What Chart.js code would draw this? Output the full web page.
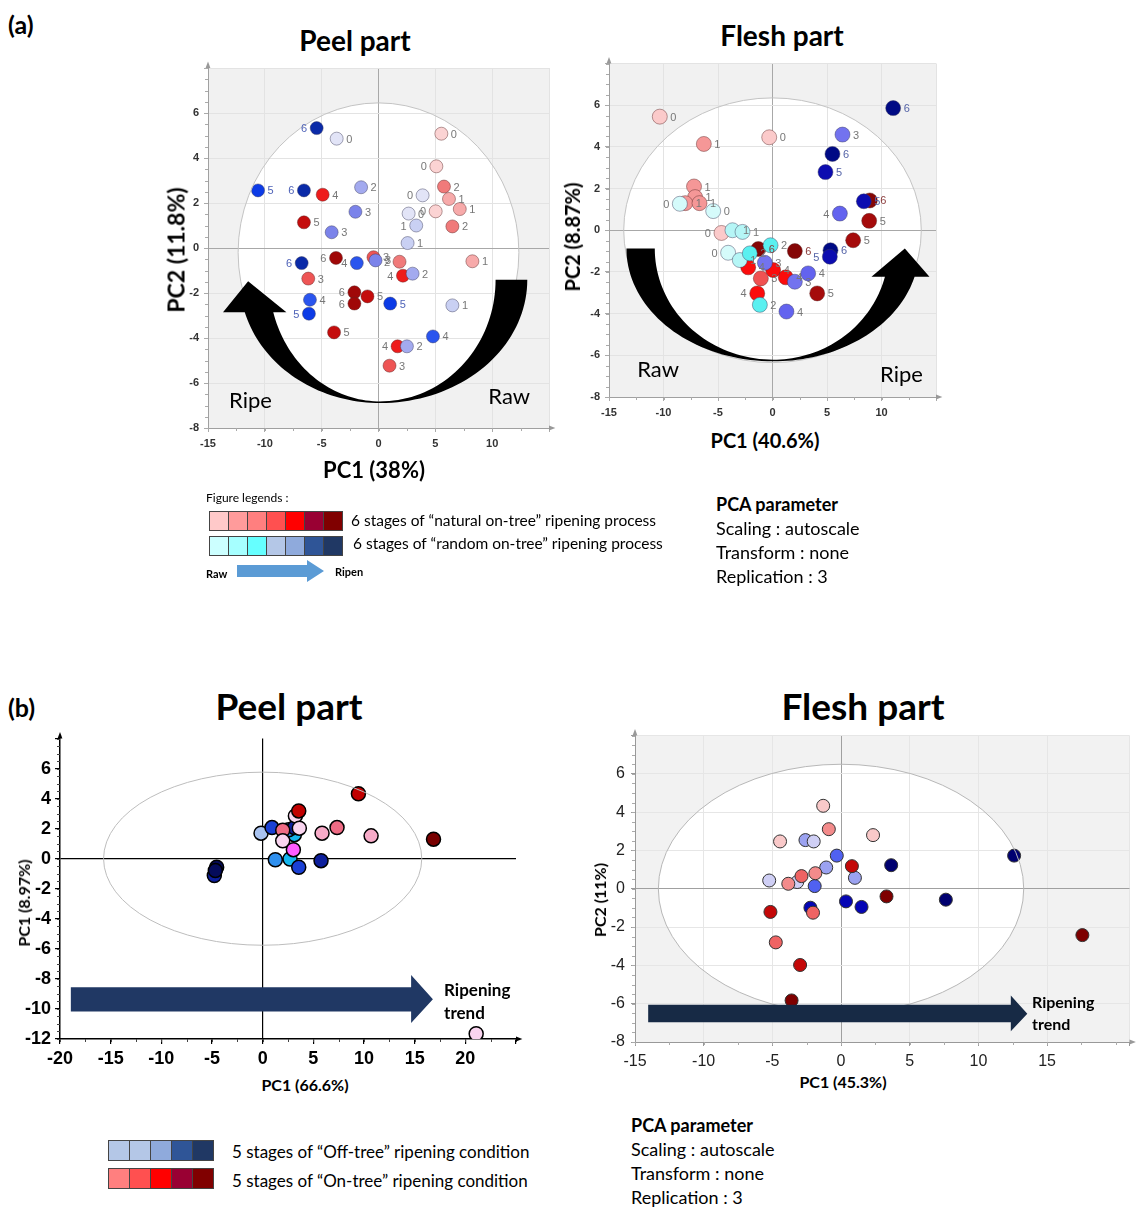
<!DOCTYPE html>
<html>
<head>
<meta charset="utf-8">
<script src="https://cdn.jsdelivr.net/npm/chart.js@4.4.1/dist/chart.umd.min.js"></script>
<style>
  body { margin: 0; background: #fff; font-family: Lato, 'Open Sans', sans-serif; color: #000; }
  #page { position: relative; width: 1137px; height: 1208px; overflow: hidden; }
  canvas { position: absolute; }
  .t { position: absolute; white-space: nowrap; line-height: 1; }
  .c { transform: translate(-50%, -50%); }
  .l { transform: translateY(-50%); }
  .r90 { transform: translate(-50%, -50%) rotate(-90deg); }
  .b { font-weight: bold; }
  .boxes { position: absolute; display: flex; }
  .boxes div { border: 1px solid #444; box-sizing: border-box; margin-right: -1px; }
</style>
</head>
<body>
<div id="page">
  <div class="t l b" style="left:8px;top:24px;font-size:25px">(a)</div>
  <div class="t c b" style="left:355px;top:40px;font-size:28px">Peel part</div>
  <div class="t c b" style="left:782px;top:35px;font-size:28px">Flesh part</div>

  <canvas id="peelA" width="410" height="400" style="left:150px;top:60px"></canvas>
  <canvas id="fleshA" width="390" height="370" style="left:560px;top:55px"></canvas>

  <div class="t r90 b" style="left:176px;top:250px;font-size:23px">PC2 (11.8%)</div>
  <div class="t c b" style="left:374px;top:470px;font-size:22px">PC1 (38%)</div>
  <div class="t r90 b" style="left:572px;top:237px;font-size:20px">PC2 (8.87%)</div>
  <div class="t c b" style="left:765px;top:440px;font-size:20px">PC1 (40.6%)</div>

  <div class="t l" style="left:206px;top:498px;font-size:12px">Figure legends :</div>
  <div class="boxes" id="legA1" style="left:209px;top:511px"></div>
  <div class="boxes" id="legA2" style="left:209px;top:536px"></div>
  <div class="t l" id="legA1t" style="left:351px;top:521px;font-size:15.5px"></div>
  <div class="t l" id="legA2t" style="left:353px;top:544px;font-size:15.5px"></div>
  <div class="t l b" style="left:206px;top:573px;font-size:11px">Raw</div>
  <svg style="position:absolute;left:237px;top:560px" width="90" height="22">
    <polygon points="0,5 70,5 70,0 87,11 70,22 70,17 0,17" fill="#5b9bd5"/>
  </svg>
  <div class="t l b" style="left:335px;top:571px;font-size:11px">Ripen</div>

  <div class="t l b" style="left:716px;top:504px;font-size:18px">PCA parameter</div>
  <div class="t l" style="left:716px;top:528px;font-size:18px">Scaling : autoscale</div>
  <div class="t l" style="left:716px;top:552px;font-size:18px">Transform : none</div>
  <div class="t l" style="left:716px;top:576px;font-size:18px">Replication : 3</div>

  <div class="t l b" style="left:8px;top:707px;font-size:25px">(b)</div>
  <div class="t c b" style="left:289px;top:705px;font-size:37px">Peel part</div>
  <div class="t c b" style="left:863px;top:705px;font-size:37px">Flesh part</div>

  <canvas id="peelB" width="580" height="340" style="left:0px;top:730px"></canvas>
  <canvas id="fleshB" width="547" height="340" style="left:590px;top:728px"></canvas>

  <div class="t r90 b" style="left:24px;top:903px;font-size:16px">PC1 (8.97%)</div>
  <div class="t c b" style="left:305px;top:1085px;font-size:16px">PC1 (66.6%)</div>
  <div class="t r90 b" style="left:600px;top:900px;font-size:16px">PC2 (11%)</div>
  <div class="t c b" style="left:843px;top:1082px;font-size:16px">PC1 (45.3%)</div>

  <div class="boxes" id="legB1" style="left:108px;top:1140px"></div>
  <div class="boxes" id="legB2" style="left:108px;top:1168px"></div>
  <div class="t l" id="legB1t" style="left:232px;top:1151px;font-size:17px"></div>
  <div class="t l" id="legB2t" style="left:232px;top:1180px;font-size:17px"></div>

  <div class="t l b" style="left:631px;top:1125px;font-size:18px">PCA parameter</div>
  <div class="t l" style="left:631px;top:1149px;font-size:18px">Scaling : autoscale</div>
  <div class="t l" style="left:631px;top:1173px;font-size:18px">Transform : none</div>
  <div class="t l" style="left:631px;top:1197px;font-size:18px">Replication : 3</div>
</div>

<script>
// ---- (a) Peel part : natural on-tree (red) and random on-tree (blue)
const peelA_natX = [5.53, 5.09, 5.76, 6.2, 7.15, 6.5, 5.03, 8.26, -4.91, -6.56, -3.74, -0.44, 1.85, 2.15, -6.18, -2.12, -2.12, -0.97, -3.91, 1.68, 0.97];
const peelA_natY = [5.08, 3.63, 2.73, 2.18, 1.73, 0.96, 1.63, -0.59, 2.37, 1.14, -0.44, -0.41, -0.61, -1.23, -1.36, -1.97, -2.47, -2.15, -3.75, -4.37, -5.23];
const peelA_natStage = [0, 0, 2, 1, 1, 2, 0, 1, 4, 5, 6, 3, 2, 4, 3, 6, 6, 5, 5, 4, 3];
const peelA_rndX = [-5.44, -3.68, 3.88, 2.65, 3.32, 2.56, 6.5, -10.6, -6.56, -1.53, -2.03, -4.12, -6.76, -1.91, -0.26, 3.0, -6.03, -6.12, 1.03, 4.79, 2.5];
const peelA_rndY = [5.33, 4.86, 2.34, 1.53, 1.0, 0.22, -2.55, 2.56, 2.56, 2.7, 1.61, 0.7, -0.67, -0.67, -0.55, -1.14, -2.3, -2.92, -2.47, -3.93, -4.37];
const peelA_rndStage = [6, 0, 0, 0, 1, 1, 1, 5, 6, 2, 3, 3, 6, 4, 3, 2, 4, 5, 5, 4, 2];

// ---- (a) Flesh part
const fleshA_natX = [-10.34, -6.3, -0.3, -7.2, -7.1, -8.0, -6.7, -4.68, -2.23, 0.06, -1.07, 1.22, -1.4, -1.3, 2.05, 8.93, 8.87, 7.4, 4.1];
const fleshA_natY = [5.45, 4.14, 4.46, 2.1, 1.59, 1.3, 1.3, -0.13, -1.78, -1.91, -2.31, -2.26, -3.03, -0.9, -1.0, 1.43, 0.45, -0.48, -3.03];
const fleshA_natStage = [0, 1, 0, 1, 1, 1, 1, 0, 4, 4, 3, 4, 4, 6, 6, 6, 5, 5, 5];
const fleshA_rndX = [-8.5, -5.44, -3.67, -2.75, -4.07, -3.0, -2.08, -0.18, -1.16, 6.42, 5.5, 4.86, 8.38, 6.18, 5.32, 5.26, -0.7, 3.27, 2.05, 1.28, 11.07];
const fleshA_rndY = [1.27, 0.92, 0.0, -0.08, -1.08, -1.43, -1.11, -0.72, -3.58, 4.59, 3.66, 2.79, 1.39, 0.8, -0.96, -1.27, -1.56, -2.07, -2.47, -3.9, 5.86];
const fleshA_rndStage = [0, 0, 1, 1, 0, 1, 2, 2, 2, 3, 6, 5, 5, 4, 6, 5, 3, 4, 3, 4, 6];

// ---- (b) Peel part : off-tree (blue) and on-tree (red)
const peelB_offX = [-0.16, 0.92, 3.13, 2.57, 3.13, 1.25, 2.7, 3.56, 5.76, -4.77, -4.54, -4.67];
const peelB_offY = [1.7, 2.07, 1.6, 1.92, 2.07, -0.07, -0.02, -0.57, -0.13, -1.12, -0.57, -0.79];
const peelB_offStage = [0, 3, 2, 1, 4, 1, 2, 3, 4, 4, 5, 5];
const peelB_onX = [1.98, 1.98, 3.23, 3.62, 3.56, 3.03, 5.86, 7.34, 10.7, 9.45, 16.86, 21.07];
const peelB_onY = [1.9, 1.19, 2.85, 2.03, 3.18, 0.6, 1.7, 2.07, 1.52, 4.32, 1.3, -11.65];
const peelB_onStage = [2, 0, 0, 0, 4, 3, 1, 2, 1, 4, 5, 0];

// ---- (b) Flesh part
const fleshB_onX = [-1.3, -0.89, 2.33, -4.44, 0.79, -3.84, -2.88, -1.87, 3.31, -2.04, -5.14, -4.75, -2.98, -3.6, 17.57];
const fleshB_onY = [4.33, 3.11, 2.8, 2.47, 1.18, 0.26, 0.66, 0.81, -0.4, -1.25, -1.21, -2.8, -3.98, -5.83, -2.42];
const fleshB_onStage = [0, 1, 0, 0, 3, 1, 2, 1, 4, 2, 3, 2, 3, 4, 4];
const fleshB_offX = [-2.59, -1.99, -0.31, 3.65, 12.6, -5.23, -3.19, -1.08, -1.92, 1.01, 0.36, 1.49, 7.63, -2.23];
const fleshB_offY = [2.54, 2.47, 1.73, 1.23, 1.73, 0.43, 0.35, 1.11, 0.14, 0.57, -0.66, -0.95, -0.57, -0.99];
const fleshB_offStage = [1, 0, 2, 4, 4, 0, 0, 1, 2, 1, 3, 3, 4, 3];

// tick labels
const peelA_xTicks = [-15, -10, -5, 0, 5, 10];
const peelA_yTicks = [-8, -6, -4, -2, 0, 2, 4, 6];
const fleshA_xTicks = [-15, -10, -5, 0, 5, 10];
const fleshA_yTicks = [-8, -6, -4, -2, 0, 2, 4, 6];
const peelB_xTicks = [-20, -15, -10, -5, 0, 5, 10, 15, 20];
const peelB_yTicks = [-12, -10, -8, -6, -4, -2, 0, 2, 4, 6];
const fleshB_xTicks = [-15, -10, -5, 0, 5, 10, 15];
const fleshB_yTicks = [-8, -6, -4, -2, 0, 2, 4, 6];

// legends
const legendA_text = ['6 stages of \u201cnatural on-tree\u201d ripening process', '6 stages of \u201crandom on-tree\u201d ripening process'];
const legendB_text = ['5 stages of \u201cOff-tree\u201d ripening condition', '5 stages of \u201cOn-tree\u201d ripening condition'];
const legendA_red = ['#ffc9c9', '#ff9b9b', '#ff7f7f', '#ff5050', '#ff0000', '#990033', '#800000'];
const legendA_cyanBlue = ['#ccffff', '#a6ffff', '#66ffff', '#b4c7e7', '#8faadc', '#2f5597', '#203864'];
const legendB_blue = ['#b4c7e7', '#b4c7e7', '#8faadc', '#2f5597', '#203864'];
const legendB_red = ['#ff7f7f', '#ff5050', '#ff0000', '#990033', '#800000'];

function fillBoxes(id, colors, w, h) {
  const el = document.getElementById(id);
  colors.forEach(c => {
    const d = document.createElement('div');
    d.style.width = w + 'px'; d.style.height = h + 'px'; d.style.background = c;
    el.appendChild(d);
  });
}
fillBoxes('legA1', legendA_red, 20, 20);
fillBoxes('legA2', legendA_cyanBlue, 20, 20);
fillBoxes('legB1', legendB_blue, 22, 21);
fillBoxes('legB2', legendB_red, 22, 21);
document.getElementById('legA1t').textContent = legendA_text[0];
document.getElementById('legA2t').textContent = legendA_text[1];
document.getElementById('legB1t').textContent = legendB_text[0];
document.getElementById('legB2t').textContent = legendB_text[1];

const pts = (xs, ys) => xs.map((v, i) => ({ x: v, y: ys[i] }));

function ellPts(cx, cy, rx, ry, a0, a1, n = 40) {
  const p = [];
  for (let i = 0; i <= n; i++) {
    const t = a0 + (a1 - a0) * i / n;
    p.push([cx + rx * Math.cos(t), cy + ry * Math.sin(t)]);
  }
  return p;
}

function drawCurvedArrow(chart, s) {
  const { ctx, scales: { x, y } } = chart;
  const cx = x.getPixelForValue(s.cx), cy = y.getPixelForValue(s.cy);
  const px = v => Math.abs(x.getPixelForValue(s.cx + v) - cx);
  const py = v => Math.abs(y.getPixelForValue(s.cy - v) - cy);
  const ryO = py(s.ryOut), ryI = py(s.ryIn);
  const by = y.getPixelForValue(s.baseY);
  const left = s.side === 'left';
  const tail = left ? 0 : Math.PI;
  const endO = left ? Math.PI - Math.asin((by - cy) / ryO) : Math.asin((by - cy) / ryO);
  const endI = left ? Math.PI - Math.asin((by - cy) / ryI) : Math.asin((by - cy) / ryI);
  const path = [
    ...ellPts(cx, cy, px(s.tailOut), ryO, tail, Math.PI / 2),
    ...ellPts(cx, cy, px(s.headOut), ryO, Math.PI / 2, endO),
    [x.getPixelForValue(s.baseOutX), by],
    [x.getPixelForValue(s.tip[0]), y.getPixelForValue(s.tip[1])],
    [x.getPixelForValue(s.baseInX), by],
    ...ellPts(cx, cy, px(s.headIn), ryI, endI, Math.PI / 2),
    ...ellPts(cx, cy, px(s.tailIn), ryI, Math.PI / 2, tail)
  ];
  ctx.beginPath();
  path.forEach((p, i) => i ? ctx.lineTo(p[0], p[1]) : ctx.moveTo(p[0], p[1]));
  ctx.closePath();
  ctx.fillStyle = '#000';
  ctx.fill();
}

function drawStraightArrow(chart, s) {
  const { ctx, scales: { x, y } } = chart;
  const X = v => x.getPixelForValue(v), Y = v => y.getPixelForValue(v);
  ctx.beginPath();
  ctx.moveTo(X(s.x0), Y(s.top));
  ctx.lineTo(X(s.headX), Y(s.top));
  ctx.lineTo(X(s.headX), Y(s.headTop));
  ctx.lineTo(X(s.tipX), Y(s.tipY));
  ctx.lineTo(X(s.headX), Y(s.headBottom));
  ctx.lineTo(X(s.headX), Y(s.bottom));
  ctx.lineTo(X(s.x0), Y(s.bottom));
  ctx.closePath();
  ctx.fillStyle = s.color;
  ctx.fill();
}

function ellipsePath(chart, e) {
  const { ctx, scales: { x, y } } = chart;
  const cx = x.getPixelForValue(e.cx), cy = y.getPixelForValue(e.cy);
  const rx = Math.abs(x.getPixelForValue(e.cx + e.rx) - cx);
  const ry = Math.abs(y.getPixelForValue(e.cy + e.ry) - cy);
  ctx.beginPath();
  ctx.ellipse(cx, cy, rx, ry, 0, 0, Math.PI * 2);
}

const deco = {
  id: 'deco',
  beforeDraw(chart, args, o) {
    const { ctx, chartArea: a } = chart;
    ctx.save();
    if (o.bg) {
      ctx.fillStyle = o.bg;
      ctx.fillRect(a.left, a.top, a.right - a.left, a.bottom - a.top);
    }
    if (o.ellipse && o.ellipseFill) {
      ellipsePath(chart, o.ellipse);
      ctx.fillStyle = o.ellipseFill;
      ctx.fill();
    }
    ctx.restore();
  },
  afterDatasetsDraw(chart, args, o) {
    const { ctx, chartArea: a, scales: { x, y } } = chart;
    ctx.save();
    if (o.ellipse) {
      ellipsePath(chart, o.ellipse);
      ctx.strokeStyle = o.ellipseLine;
      ctx.lineWidth = 1;
      ctx.stroke();
    }
    if (o.curved) drawCurvedArrow(chart, o.curved);
    if (o.straight) drawStraightArrow(chart, o.straight);
    (o.texts || []).forEach(t => {
      ctx.font = t.font;
      ctx.fillStyle = t.color || '#000';
      ctx.textAlign = t.align || 'center';
      ctx.textBaseline = 'middle';
      ctx.fillText(t.text, x.getPixelForValue(t.x), y.getPixelForValue(t.y));
    });
    // minor ticks on the outside of both axes
    if (o.minor) {
      const m = o.minor;
      ctx.strokeStyle = m.color;
      ctx.lineWidth = 1;
      ctx.beginPath();
      for (let v = y.min; v <= y.max + 1e-9; v += m.y) {
        const py = Math.round(y.getPixelForValue(v)) + 0.5;
        ctx.moveTo(a.left - m.len, py); ctx.lineTo(a.left, py);
      }
      for (let v = x.min; v <= x.max + 1e-9; v += m.x) {
        const px = Math.round(x.getPixelForValue(v)) + 0.5;
        ctx.moveTo(px, a.bottom); ctx.lineTo(px, a.bottom + m.len);
      }
      ctx.stroke();
    }
    if (o.axisArrow) {
      const s = o.axisArrow.size, c = o.axisArrow.color;
      ctx.fillStyle = c;
      ctx.beginPath();
      ctx.moveTo(a.left, a.top - s * 1.6);
      ctx.lineTo(a.left - s * 0.6, a.top);
      ctx.lineTo(a.left + s * 0.6, a.top);
      ctx.closePath(); ctx.fill();
      ctx.beginPath();
      ctx.moveTo(a.right + s * 1.6, a.bottom);
      ctx.lineTo(a.right, a.bottom - s * 0.6);
      ctx.lineTo(a.right, a.bottom + s * 0.6);
      ctx.closePath(); ctx.fill();
    }
    ctx.restore();
  }
};

const stageLabels = {
  id: 'stageLabels',
  afterDatasetsDraw(chart) {
    const ctx = chart.ctx;
    chart.data.datasets.forEach((ds, i) => {
      if (!ds.stageText) return;
      const meta = chart.getDatasetMeta(i);
      ctx.save();
      ctx.font = '11px "Liberation Sans", Arial, sans-serif';
      ctx.textBaseline = 'middle';
      meta.data.forEach((pt, j) => {
        const left = ds.labelLeft.includes(j);
        ctx.fillStyle = ds.labelColors[ds.stageText[j]];
        ctx.textAlign = left ? 'right' : 'left';
        ctx.fillText(String(ds.stageText[j]), pt.x + (left ? -1 : 1) * (ds.pointRadius + 3), pt.y + 1);
      });
      ctx.restore();
    });
  }
};

// fixed axis sizes so the plot area lands where the figure has it
function fixX(h) { return s => { s.height = h; s.paddingLeft = 0; s.paddingRight = 0; }; }
function fixY(w) { return s => { s.width = w; s.paddingTop = 0; s.paddingBottom = 0; }; }

function makePanel(id, c) {
  const tickCb = list => v => list.includes(v) ? v : '';
  return new Chart(document.getElementById(id), {
    type: 'scatter',
    data: { datasets: c.datasets },
    options: {
      responsive: false,
      animation: false,
      events: [],
      layout: { padding: { top: c.padTop, right: c.padRight, left: 0, bottom: 0 } },
      plugins: { legend: { display: false }, tooltip: { enabled: false }, deco: c.deco },
      scales: {
        x: {
          type: 'linear', min: c.xMin, max: c.xMax,
          afterFit: fixX(c.xH),
          ticks: { stepSize: c.xStep, callback: tickCb(c.xTicks), font: c.tickFont, color: c.tickColor, padding: c.tickPad, maxRotation: 0, autoSkip: false },
          grid: c.grid, border: c.border
        },
        y: {
          type: 'linear', min: c.yMin, max: c.yMax,
          afterFit: fixY(c.yW),
          ticks: { stepSize: c.yStep, callback: tickCb(c.yTicks), font: c.tickFont, color: c.tickColor, padding: c.tickPad, autoSkip: false },
          grid: c.grid, border: c.border
        }
      }
    },
    plugins: [deco, stageLabels]
  });
}

// styles for panel (a)
const aGrid = { color: ctx => ctx.tick && ctx.tick.value === 0 ? '#a8a8a8' : '#e3e3e3', tickColor: '#aaa', tickLength: 4 };
const aBorder = { color: '#a0a0a0', width: 1 };
const aFont = { family: '"Liberation Sans", Arial, sans-serif', size: 11, weight: 'bold' };
const pStyle = (r, bc, bw) => ({ pointRadius: r, pointBorderColor: bc, pointBorderWidth: bw, pointHoverRadius: r });

makePanel('peelA', {
  xMin: -15, xMax: 15, xStep: 5, yMin: -8, yMax: 8, yStep: 2,
  xTicks: peelA_xTicks, yTicks: peelA_yTicks,
  yW: 58, xH: 32, padTop: 8, padRight: 11, tickPad: 5,
  tickFont: aFont, tickColor: '#333', grid: aGrid, border: aBorder,
  datasets: [
    Object.assign({
      data: pts(peelA_rndX, peelA_rndY), stageText: peelA_rndStage,
      pointBackgroundColor: peelA_rndStage.map(s => ['#e2e4f7', '#c9d0f3', '#a3aaef', '#7b83ea', '#2a55ee', '#0c3be6', '#0a2aa8'][s]),
      labelLeft: [0, 2, 4, 8, 12, 13, 17],
      labelColors: ['#777', '#777', '#777', '#777', '#777', '#4f63b8', '#4f63b8']
    }, pStyle(6.5, 'rgba(60,60,90,0.45)', 1)),
    Object.assign({
      data: pts(peelA_natX, peelA_natY), stageText: peelA_natStage,
      pointBackgroundColor: peelA_natStage.map(s => ['#fbd3d3', '#f7aaaa', '#f07a7a', '#ee5555', '#ee1c1c', '#c40c0c', '#a00808'][s]),
      labelLeft: [1, 6, 10, 12, 13, 15, 16, 19],
      labelColors: ['#777', '#777', '#777', '#777', '#777', '#777', '#777']
    }, pStyle(6.5, 'rgba(90,40,40,0.45)', 1))
  ],
  deco: {
    bg: '#f1f1f1', ellipse: { cx: 0, cy: -0.2, rx: 12.35, ry: 6.65 }, ellipseFill: '#fff', ellipseLine: '#c4c4c4',
    curved: { cx: 0.15, cy: -1.41, ryOut: 5.48, ryIn: 5.41, tailOut: 12.94, tailIn: 10.15, headOut: 12.35, headIn: 9.76,
              baseY: -2.85, baseOutX: -13.68, baseInX: -8.1, tip: [-11.47, -1.48], side: 'left' },
    texts: [
      { text: 'Ripe', x: -11.26, y: -6.81, font: '22px Lato, sans-serif' },
      { text: 'Raw', x: 11.5, y: -6.6, font: '22px Lato, sans-serif' }
    ],
    minor: { x: 2.5, y: 0.5, len: 3, color: '#aaa' },
    axisArrow: { size: 4, color: '#999' }
  }
});

makePanel('fleshA', {
  xMin: -15, xMax: 15, xStep: 5, yMin: -8, yMax: 8, yStep: 2,
  xTicks: fleshA_xTicks, yTicks: fleshA_yTicks,
  yW: 49, xH: 28, padTop: 7, padRight: 14, tickPad: 5,
  tickFont: aFont, tickColor: '#333', grid: aGrid, border: aBorder,
  datasets: [
    Object.assign({
      data: pts(fleshA_rndX, fleshA_rndY), stageText: fleshA_rndStage,
      pointBackgroundColor: fleshA_rndStage.map(s => ['#d5fbfb', '#b5f6f6', '#5af0f0', '#7373ef', '#6363ef', '#0c0cb0', '#000a85'][s]),
      labelLeft: [0, 4, 13, 15],
      labelColors: ['#777', '#777', '#777', '#777', '#777', '#5564a8', '#5564a8']
    }, pStyle(7.5, 'rgba(60,60,90,0.45)', 1)),
    Object.assign({
      data: pts(fleshA_natX, fleshA_natY), stageText: fleshA_natStage,
      pointBackgroundColor: fleshA_natStage.map(s => ['#fbcaca', '#f59797', '#f27a7a', '#f05252', '#fb0c0c', '#a50b0b', '#850606'][s]),
      labelLeft: [7, 12],
      labelColors: ['#777', '#777', '#777', '#777', '#777', '#777', '#8a3c3c']
    }, pStyle(7.5, 'rgba(90,40,40,0.45)', 1))
  ],
  deco: {
    bg: '#f1f1f1', ellipse: { cx: 0, cy: 0, rx: 13.65, ry: 6.35 }, ellipseFill: '#fff', ellipseLine: '#c4c4c4',
    curved: { cx: 0.06, cy: -0.88, ryOut: 5.41, ryIn: 5.33, tailOut: 13.46, tailIn: 10.86, headOut: 13.4, headIn: 10.6,
              baseY: -2.23, baseOutX: 14.4, baseInX: 9.08, tip: [12.14, -0.88], side: 'right' },
    texts: [
      { text: 'Raw', x: -10.5, y: -6.69, font: '22px Lato, sans-serif' },
      { text: 'Ripe', x: 11.83, y: -6.93, font: '22px Lato, sans-serif' }
    ],
    minor: { x: 2.5, y: 0.5, len: 3, color: '#aaa' },
    axisArrow: { size: 4, color: '#999' }
  }
});

makePanel('peelB', {
  xMin: -20, xMax: 25, xStep: 5, yMin: -12, yMax: 8, yStep: 2,
  xTicks: peelB_xTicks, yTicks: peelB_yTicks,
  yW: 60, xH: 31, padTop: 7, padRight: 64, tickPad: 4,
  tickFont: { family: '"Liberation Sans", Arial, sans-serif', size: 18, weight: 'bold' }, tickColor: '#000',
  grid: { color: ctx => ctx.tick && ctx.tick.value === 0 ? '#000' : 'rgba(0,0,0,0)', tickColor: '#000', tickLength: 5, lineWidth: 1.2 },
  border: { color: '#000', width: 1.5 },
  datasets: [
    Object.assign({
      data: pts(peelB_onX, peelB_onY),
      pointBackgroundColor: peelB_onStage.map(s => ['#f9d4ef', '#f7abc8', '#ee6b84', '#ff5cff', '#c10000', '#780000'][s])
    }, pStyle(7, '#000', 1.5)),
    Object.assign({
      data: pts(peelB_offX, peelB_offY),
      pointBackgroundColor: peelB_offStage.map(s => ['#a9c3f0', '#2f90ef', '#14b6ee', '#1a40d4', '#0d1f9c', '#050b5a'][s])
    }, pStyle(7, '#000', 1.5))
  ],
  deco: {
    ellipse: { cx: 0, cy: 0, rx: 15.7, ry: 5.76 }, ellipseLine: '#bdbdbd',
    straight: { x0: -18.93, headX: 14.65, top: -8.56, bottom: -10.17, headTop: -7.74, headBottom: -10.94, tipX: 16.8, tipY: -9.35, color: '#203864' },
    texts: [
      { text: 'Ripening', x: 17.9, y: -8.74, font: 'bold 17px Lato, sans-serif', align: 'left' },
      { text: 'trend', x: 17.9, y: -10.28, font: 'bold 17px Lato, sans-serif', align: 'left' }
    ],
    minor: { x: 2.5, y: 0.5, len: 3, color: '#444' },
    axisArrow: { size: 4, color: '#000' }
  }
});

makePanel('fleshB', {
  xMin: -15, xMax: 21, xStep: 5, yMin: -8, yMax: 8, yStep: 2,
  xTicks: fleshB_xTicks, yTicks: fleshB_yTicks,
  yW: 45, xH: 26, padTop: 6, padRight: 2, tickPad: 6,
  tickFont: { family: '"Liberation Sans", Arial, sans-serif', size: 16 }, tickColor: '#222',
  grid: { color: ctx => ctx.tick && ctx.tick.value === 0 ? '#a0a0a0' : '#e6e6e6', tickColor: '#999', tickLength: 4 },
  border: { color: '#999', width: 1 },
  datasets: [
    Object.assign({
      data: pts(fleshB_onX, fleshB_onY),
      pointBackgroundColor: fleshB_onStage.map(s => ['#f9c9c9', '#f38b8b', '#ef6363', '#c40808', '#7e0000'][s])
    }, pStyle(6.5, '#333', 1)),
    Object.assign({
      data: pts(fleshB_offX, fleshB_offY),
      pointBackgroundColor: fleshB_offStage.map(s => ['#cfcff5', '#9ba2f1', '#5061f1', '#0505b5', '#000070'][s])
    }, pStyle(6.5, '#333', 1))
  ],
  deco: {
    bg: '#f2f2f2', ellipse: { cx: 0, cy: 0, rx: 13.3, ry: 6.5 }, ellipseFill: '#fff', ellipseLine: '#b8b8b8',
    straight: { x0: -14.04, headX: 12.36, top: -6.06, bottom: -6.97, headTop: -5.57, headBottom: -7.44, tipX: 13.56, tipY: -6.52, color: '#172a45' },
    texts: [
      { text: 'Ripening', x: 13.9, y: -5.97, font: 'bold 16px Lato, sans-serif', align: 'left' },
      { text: 'trend', x: 13.9, y: -7.09, font: 'bold 16px Lato, sans-serif', align: 'left' }
    ],
    minor: { x: 2.5, y: 0.5, len: 3, color: '#aaa' },
    axisArrow: { size: 4, color: '#999' }
  }
});
</script>
</body>
</html>
